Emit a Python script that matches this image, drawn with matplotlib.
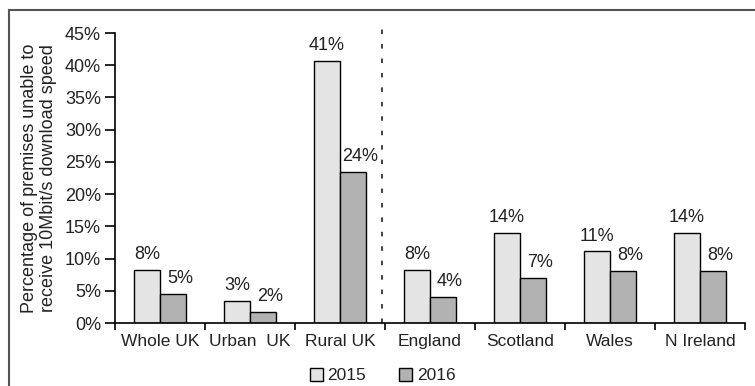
import numpy as np
import matplotlib
matplotlib.use("Agg")
import matplotlib.pyplot as plt
from matplotlib.lines import Line2D

plt.rcParams["font.family"] = ["Liberation Sans", "DejaVu Sans"]

categories = ["Whole UK", "Urban  UK", "Rural UK", "England", "Scotland", "Wales", "N Ireland"]
values_2015 = [8.2, 3.4, 40.6, 8.2, 14.0, 11.1, 14.0]
values_2016 = [4.5, 1.7, 23.5, 4.1, 7.0, 8.1, 8.1]
labels_2015 = ["8%", "3%", "41%", "8%", "14%", "11%", "14%"]
labels_2016 = ["5%", "2%", "24%", "4%", "7%", "8%", "8%"]
yticks = [0, 5, 10, 15, 20, 25, 30, 35, 40, 45]

c15 = "#e4e4e4"
c16 = "#b2b2b2"
txt = "#222222"
fs = 13

fig = plt.figure(figsize=(7.55, 3.86), dpi=100)
ax = fig.add_axes([0.1523, 0.1632, 0.8345, 0.7513])

x = np.arange(len(categories))
w = 0.29
b1 = ax.bar(x - w / 2, values_2015, w, color=c15, edgecolor="black", linewidth=1.0, label="2015")
b2 = ax.bar(x + w / 2, values_2016, w, color=c16, edgecolor="black", linewidth=1.0, label="2016")

for xi, v, s in zip(x, values_2015, labels_2015):
    ax.annotate(s, (xi - w / 2, v), xytext=(0, 5), textcoords="offset points",
                ha="center", va="bottom", fontsize=fs, color=txt)
for xi, v, s in zip(x, values_2016, labels_2016):
    ax.annotate(s, (xi + w / 2, v), xytext=(5, 5), textcoords="offset points",
                ha="center", va="bottom", fontsize=fs, color=txt)

ax.set_xlim(-0.5, len(categories) - 0.5)
ax.set_ylim(0, 45)
ax.set_yticks(yticks)
ax.set_yticklabels([f"{t}%" for t in yticks])
ax.set_xticks(x)
ax.set_xticklabels(categories)
ax.set_xticks(np.arange(len(categories) + 1) - 0.5, minor=True)
ax.tick_params(axis="x", which="major", length=0, pad=8, labelsize=12.5, labelcolor=txt)
ax.tick_params(axis="x", which="minor", length=5, width=1.2, direction="out")
ax.tick_params(axis="y", length=7, width=1.2, direction="out", labelsize=fs, labelcolor=txt, pad=3)

for side in ["top", "right"]:
    ax.spines[side].set_visible(False)
for side in ["left", "bottom"]:
    ax.spines[side].set_linewidth(1.2)

ax.set_ylabel("Percentage of premises unable to\nreceive 10Mbit/s download speed",
              fontsize=13, color=txt, labelpad=6, linespacing=1.1)

# divider between UK totals and nations
ax.plot([2.47, 2.47], [0, 46.6], color="#333333", linewidth=1.3,
        linestyle=(0, (2.5, 5.5)), clip_on=False)

fig.legend(handles=[b1, b2], labels=["2015", "2016"], loc="center",
           bbox_to_anchor=(0.507, 0.027), ncol=2, frameon=False, fontsize=12.5,
           handlelength=0.75, handleheight=0.75, handletextpad=0.25, columnspacing=1.9,
           labelcolor=txt)

# outer frame (top and left edges visible)
fig.add_artist(Line2D([9 / 755, 1], [1 - 10 / 386, 1 - 10 / 386], transform=fig.transFigure,
                      color="#555555", linewidth=1.5))
fig.add_artist(Line2D([9 / 755, 9 / 755], [0, 1 - 10 / 386], transform=fig.transFigure,
                      color="#555555", linewidth=1.5))

fig.savefig("out.png", dpi=100)
